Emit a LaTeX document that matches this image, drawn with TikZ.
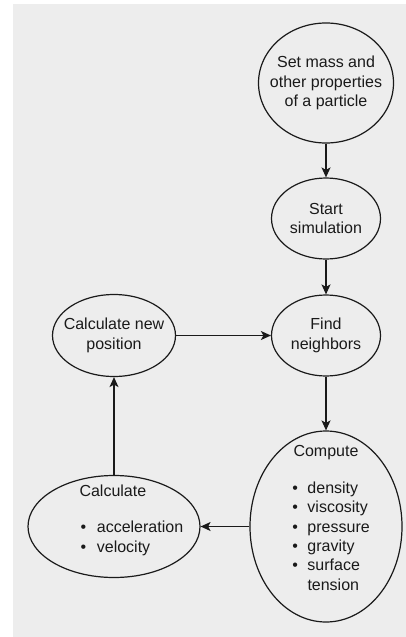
\documentclass[tikz,border=0pt]{standalone}
\usepackage{fontspec}
\setmainfont{Liberation Sans}
\usetikzlibrary{shapes.geometric,arrows.meta}
\definecolor{bgc}{HTML}{EDEDED}
\definecolor{ink}{HTML}{1A1A1A}
\begin{document}
\begin{tikzpicture}[x=1pt,y=-1pt,
  every node/.style={font=\fontsize{16}{19.4}\selectfont, text=ink},
  oval/.style={ellipse, draw=ink, line width=1.2pt, inner sep=0pt},
  ctxt/.style={inner sep=0pt, align=center},
  txt/.style={inner sep=0pt, anchor=base west},
  arr/.style={draw=ink, line width=1.2pt, -{Stealth[length=10pt,width=9pt,inset=2.5pt]}}]
\useasboundingbox (0,0) rectangle (406,637);
\fill[bgc] (13,4) rectangle (406,637);

\node[oval, minimum width=135pt, minimum height=120pt] (set) at (326,83) {};
\node[oval, minimum width=109pt, minimum height=81pt] (start) at (326,218.5) {};
\node[oval, minimum width=109pt, minimum height=81pt] (find) at (326,335.5) {};
\node[oval, minimum width=123pt, minimum height=82pt] (calcpos) at (114,335.5) {};
\node[oval, minimum width=152pt, minimum height=191pt] (compute) at (326,526.5) {};
\node[oval, minimum width=172pt, minimum height=102pt] (calc) at (114,526.5) {};

\node[ctxt] (sett) at (set) {Set mass and\\other properties\\of a particle};
\node[ctxt] (startt) at (start) {Start\\simulation};
\node[ctxt] (findt) at (find) {Find\\neighbors};
\node[ctxt] (calcpost) at (calcpos) {Calculate new\\position};

% Compute text
\node[txt] (computet) at (293.3,456.7) {Compute};
\node[txt] (cb1) at (292.2,493.3) {\makebox[15.1pt][l]{•}density};
\node[txt] (cb2) at (292.2,512.7) {\makebox[15.1pt][l]{•}viscosity};
\node[txt] (cb3) at (292.2,532.1) {\makebox[15.1pt][l]{•}pressure};
\node[txt] (cb4) at (292.2,551.5) {\makebox[15.1pt][l]{•}gravity};
\node[txt] (cb5) at (292.2,570.9) {\makebox[15.1pt][l]{•}surface};
\node[txt] (cb6) at (307.3,590.3) {tension};

% Calculate text
\node[txt] (calct) at (79.3,496) {Calculate};
\node[txt] (ab1) at (80.5,532.7) {\makebox[16.2pt][l]{•}acceleration};
\node[txt] (ab2) at (80.5,552.1) {\makebox[16.2pt][l]{•}velocity};

\draw[arr] (set) -- (start);
\draw[arr] (start) -- (find);
\draw[arr] (calcpos) -- (find);
\draw[arr] (find) -- (compute);
\draw[arr] (compute) -- (calc);
\draw[arr] (calc) -- (calcpos);
\end{tikzpicture}
\end{document}
